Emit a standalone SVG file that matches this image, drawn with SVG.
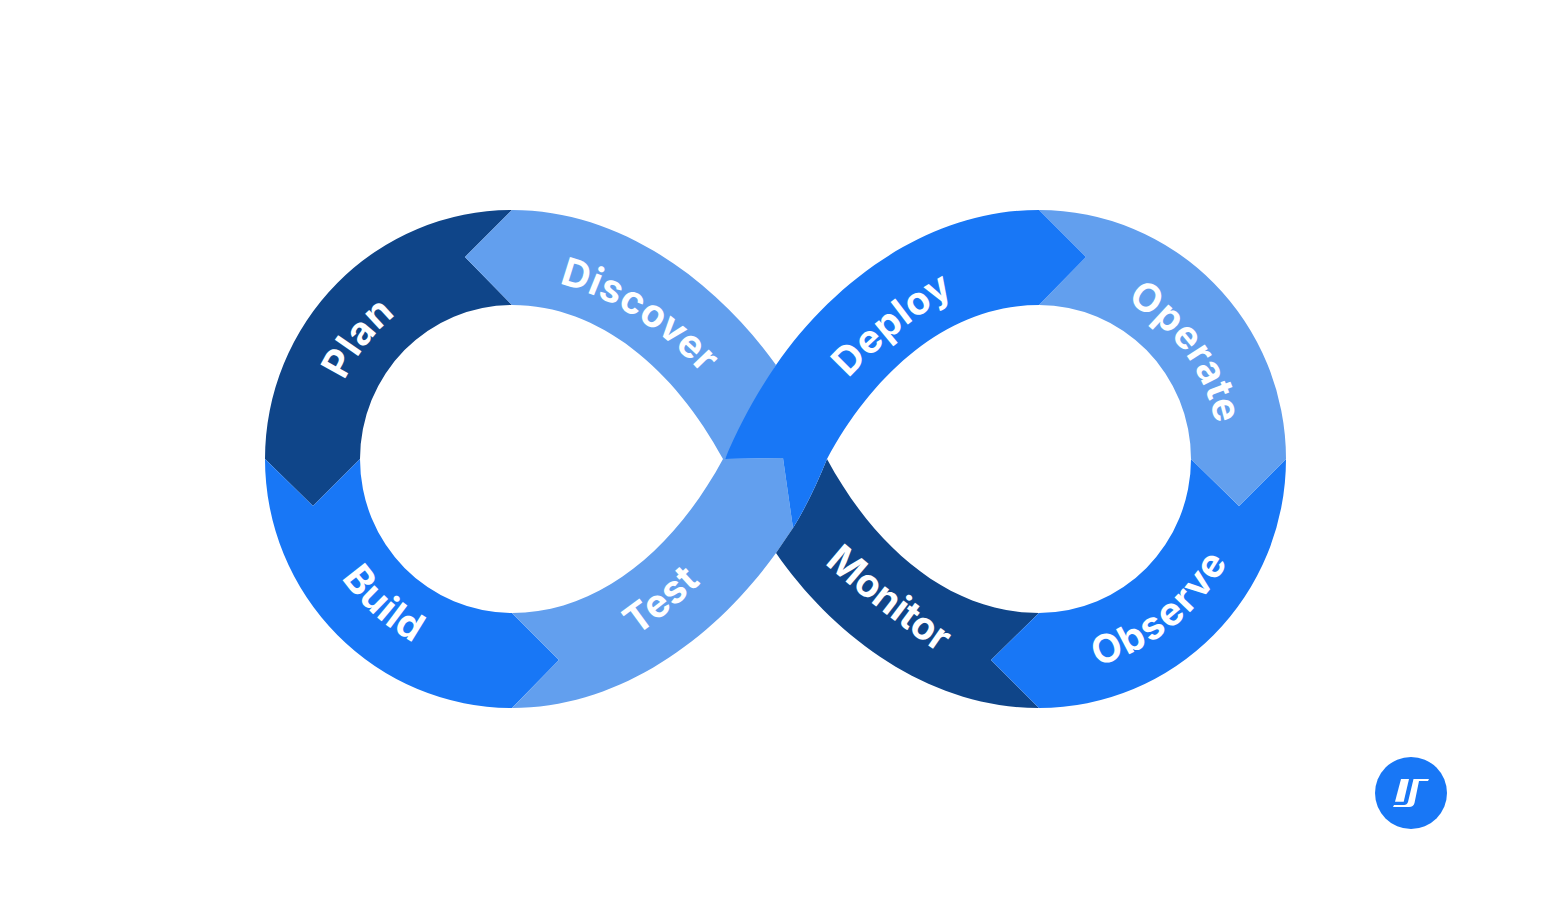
<svg xmlns="http://www.w3.org/2000/svg" width="1550" height="917" viewBox="0 0 1550 917">
  <style>
    .dark { fill: #0f4589; }
    .mid { fill: #1877f6; }
    .light { fill: #629fee; }
    .label { fill: #fff; font-family: Inter, "Open Sans", "Liberation Sans", sans-serif; font-size: 39px; font-weight: 700; letter-spacing: .5px; text-anchor: middle; }
  </style>
  <defs>
    <path id="base-plan" d="M329.8,426.9 A185,185 0 0 1 448.7,285.2"/>
    <path id="base-discover" d="M512,278 C600,278 690,341 745,431"/>
    <path id="base-deploy" d="M800,434 C850,374 915,295 1039,257"/>
    <path id="base-operate" d="M1097.6,288.8 A180,180 0 0 1 1219,455.9"/>
    <path id="base-build" d="M315,525 A209,209 0 0 0 469.4,663.5"/>
    <path id="base-test" d="M584,667 Q664,627 744,539"/>
    <path id="base-monitor" d="M793,535 Q876,613 978,679"/>
    <path id="base-observe" d="M1033.6,673.9 A215,215 0 0 0 1249.8,500.3"/>
  </defs>
  <rect width="1550" height="917" fill="#fff"/>

  <g id="plan">
    <path class="dark" d="M265,459 A247,249 0 0 1 512,210 L465,257 L512,305 A152,154 0 0 0 360,459 L313,506 Z"/>
    <text class="label"><textPath href="#base-plan" startOffset="47%">Plan</textPath></text>
  </g>
  <g id="discover">
    <path class="light" d="M512,210 C620,210 715,280 776,365 L725,459 L723,459 C675,370 600,305 512,305 L465,257 Z"/>
    <text class="label"><textPath href="#base-discover" startOffset="46%">Discover</textPath></text>
  </g>
  <g id="build">
    <path class="mid" d="M265,459 A247,249 0 0 0 512,708 L559,660 L512,613 A152,154 0 0 1 360,459 L313,506 Z"/>
    <text class="label" letter-spacing="2"><textPath href="#base-build" startOffset="50%">Build</textPath></text>
  </g>
  <g id="test">
    <path class="light" d="M512,613 C600,613 675,548 723,459 L783,458 L793,528 L776,553 C715,638 620,708 512,708 L559,660 Z"/>
    <text class="label"><textPath href="#base-test" startOffset="50%">Test</textPath></text>
  </g>
  <g id="monitor">
    <path class="dark" d="M776,553 L793,528 C806,507 817,484 827,459 C875,548 950,613 1039,613 L991,660 L1039,708 C930,708 835,638 776,553 Z"/>
    <text class="label" style="letter-spacing:-.5px"><textPath href="#base-monitor" startOffset="49%">Monitor</textPath></text>
  </g>
  <g id="observe">
    <path class="mid" d="M1286,459 A247,249 0 0 1 1039,708 L991,660 L1039,613 A152,154 0 0 0 1191,459 L1239,506 Z"/>
    <text class="label" style="letter-spacing:1.5px"><textPath href="#base-observe" startOffset="50%">Observe</textPath></text>
  </g>
  <g id="operate">
    <path class="light" d="M1039,210 A247,249 0 0 1 1286,459 L1239,506 L1191,459 A152,154 0 0 0 1039,305 L1086,257 Z"/>
    <text class="label"><textPath href="#base-operate" startOffset="50%">Operate</textPath></text>
  </g>
  <g id="deploy">
    <path class="mid" d="M1039,210 L1086,257 L1039,305 C950,305 875,370 827,459 C817,484 806,507 793,528 L783,458 L725,459 C739,425 757,393 776,365 C835,280 930,210 1039,210 Z"/>
    <text class="label"><textPath href="#base-deploy" startOffset="47%">Deploy</textPath></text>
  </g>

  <g id="badge">
    <circle class="mid" cx="1411" cy="793" r="36"/>
    <path fill="#fff" d="M1401,779 L1409,779 L1403.7,801.7 L1395,801.7 Z"/>
    <path fill="#fff" d="M1413.5,779 L1429,779 L1428,781 L1419,781 L1414.5,803 Q1413.5,807 1409,807 L1393,807 L1394,805 L1404,805 Q1407,805 1408,802 Z"/>
  </g>
</svg>
